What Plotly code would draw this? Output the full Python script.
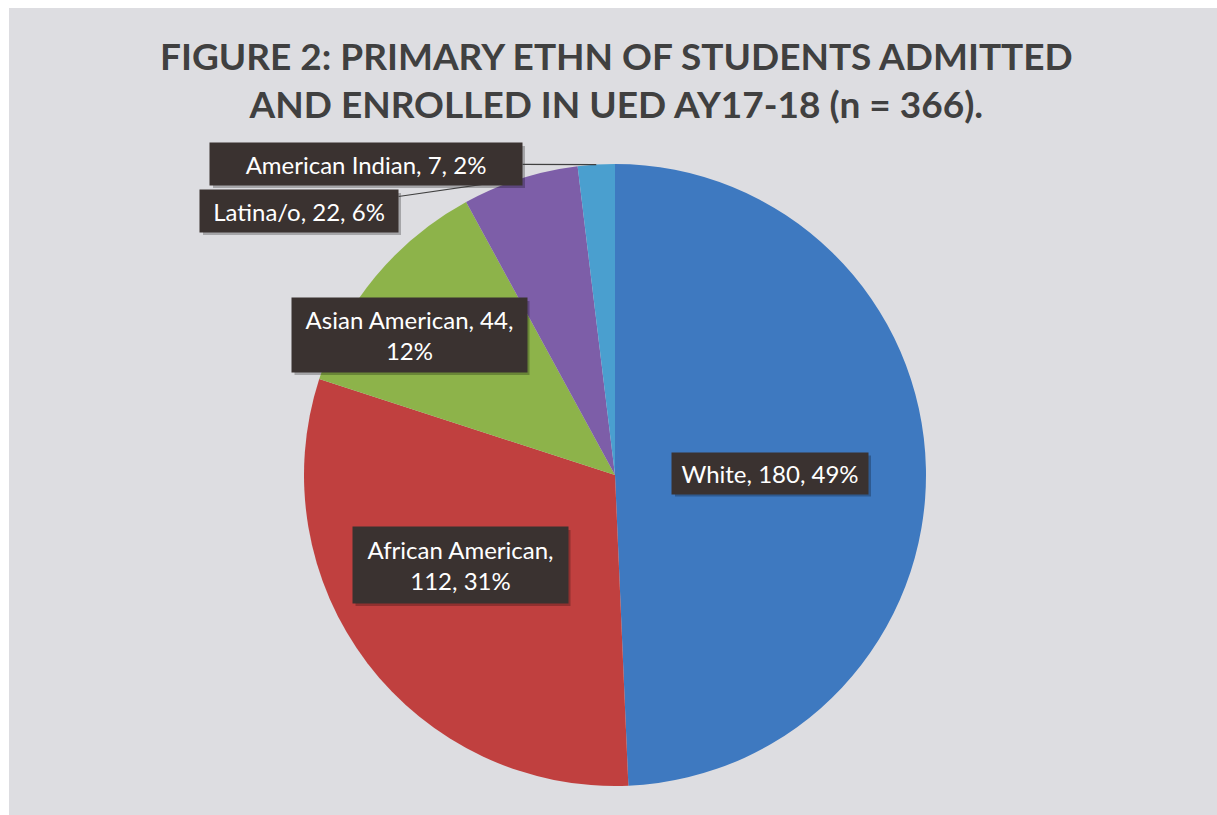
import math
import plotly.graph_objects as go

# ---- data ----
categories = ["White", "African American", "Asian American", "Latina/o", "American Indian"]
counts = [180, 112, 44, 22, 7]
n_total = 366
title_lines = ["FIGURE 2: PRIMARY ETHN OF STUDENTS ADMITTED", "AND ENROLLED IN UED AY17-18 (n = 366)."]

# ---- style / layout ----
colors = ["#3e79c0", "#c0403f", "#8db34a", "#7d5ea8", "#4a9fcf"]
W, H = 1217, 815
cx, cy, R = 615, 475, 311  # pie centre / radius in pixels

def px(x):
    return x / W

def py(y):
    return 1 - y / H

# label box centres (pixels), sizes, and line-break choice
label_pos = [(770, 473), (460, 565), (409, 335), (299, 211), (366, 164)]
label_size = [(196, 41), (215, 76), (235, 74), (198, 42), (312, 42)]
label_wrap = [None, 1, 2, None, None]   # break after which comma
label_leader = [False, False, False, True, True]

fig = go.Figure()

fig.add_trace(go.Pie(
    labels=categories,
    values=counts,
    sort=False,
    direction="clockwise",
    rotation=0,
    marker=dict(colors=colors, line=dict(width=0)),
    textinfo="none",
    hoverinfo="label+value+percent",
    showlegend=False,
    domain=dict(x=[px(cx - R), px(cx + R)], y=[py(cy + R), py(cy - R)]),
))

# gray panel
fig.add_shape(type="rect", xref="paper", yref="paper",
              x0=px(9), x1=1, y0=0, y1=py(8),
              fillcolor="#dddde1", line=dict(width=0), layer="below")

total = sum(counts)
cum = 0
for i, (name, v) in enumerate(zip(categories, counts)):
    pct = round(v / n_total * 100)
    parts = [name, str(v), f"{pct}%"]
    if label_wrap[i] is None:
        text = ", ".join(parts)
    else:
        k = label_wrap[i]
        text = ", ".join(parts[:k]) + ",<br>" + ", ".join(parts[k:])
    mid = (cum + v / 2) / total * 2 * math.pi
    cum += v
    bx, by = label_pos[i]
    bw, bh = label_size[i]
    # soft shadow behind box
    fig.add_shape(type="rect", xref="paper", yref="paper",
                  x0=px(bx - bw / 2 + 3), x1=px(bx + bw / 2 + 3),
                  y0=py(by + bh / 2 + 3), y1=py(by - bh / 2 + 3),
                  fillcolor="rgba(0,0,0,0.25)", line=dict(width=0))
    common = dict(
        text=text, xref="paper", yref="paper",
        font=dict(family="Lato, Open Sans, sans-serif", size=24, color="white"),
        bgcolor="#3a3230", width=bw, height=bh, align="center", valign="middle",
        borderpad=0, xanchor="center", yanchor="middle",
    )
    if label_leader[i]:
        ex = cx + R * math.sin(mid)
        ey = cy - R * math.cos(mid)
        fig.add_annotation(x=px(ex), y=py(ey), ax=bx - ex, ay=by - ey,
                           showarrow=True, arrowhead=0, arrowwidth=1.2,
                           arrowcolor="#404040", **common)
    else:
        fig.add_annotation(x=px(bx), y=py(by), showarrow=False, **common)

fig.add_annotation(
    text="<b>" + "<br>".join(title_lines) + "</b>",
    xref="paper", yref="paper", x=px(616), y=py(80),
    xanchor="center", yanchor="middle",
    showarrow=False, align="center",
    font=dict(family="Lato, Open Sans, sans-serif", size=37, color="#404040"),
)

fig.update_layout(
    width=W, height=H,
    margin=dict(l=0, r=0, t=0, b=0),
    paper_bgcolor="white",
    plot_bgcolor="white",
)

fig.write_html("out.html")
